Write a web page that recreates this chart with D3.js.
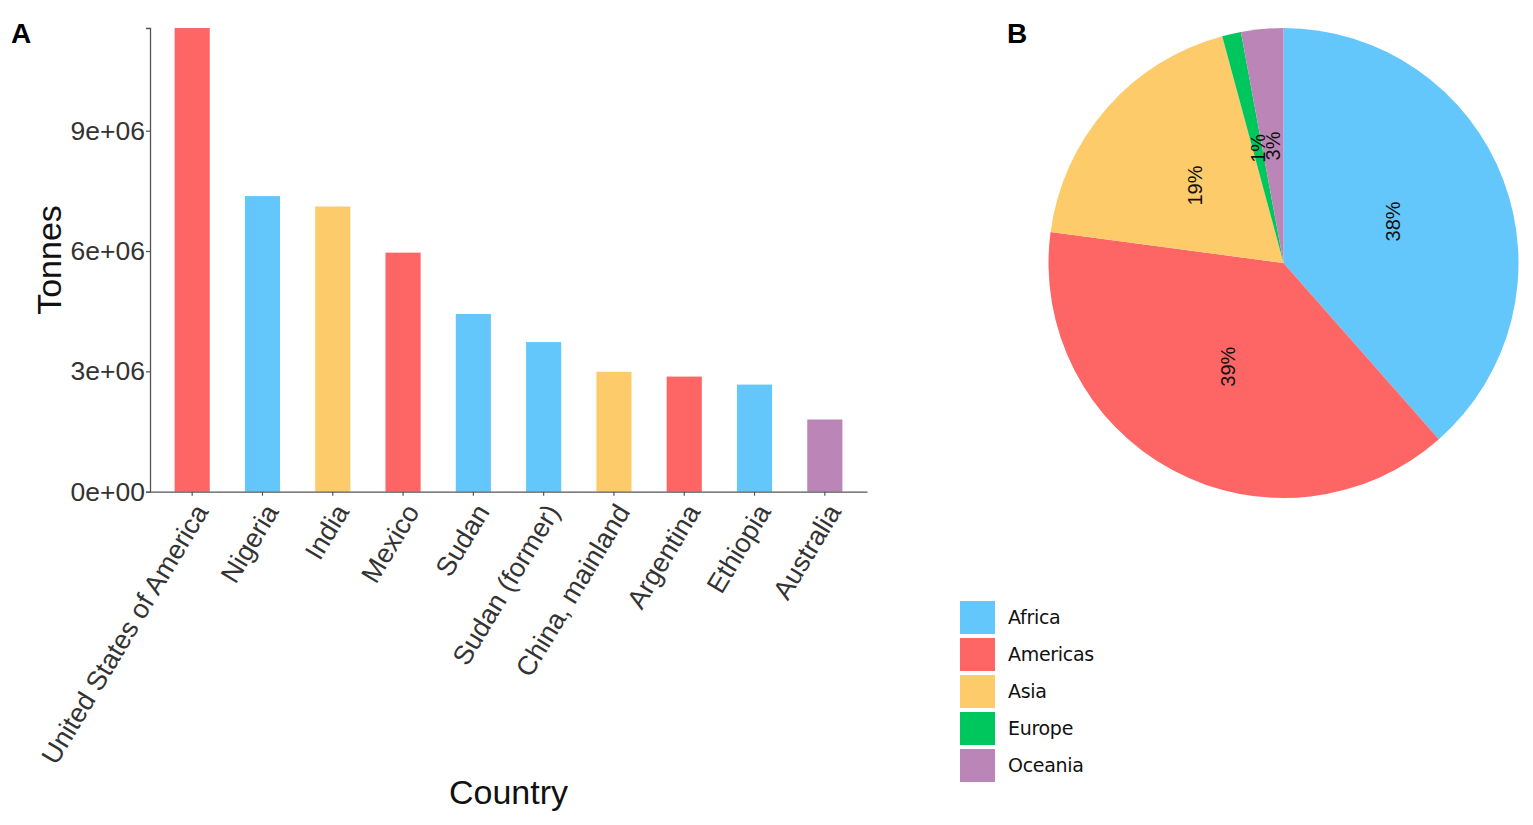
<!DOCTYPE html>
<html>
<head>
<meta charset="utf-8">
<script src="https://cdn.jsdelivr.net/npm/d3@7"></script>
<style>
  html, body { margin: 0; padding: 0; background: #fff; }
  svg { display: block; font-family: "Liberation Sans", Arial, sans-serif; }
</style>
</head>
<body>
<svg id="chart" width="1533" height="825"></svg>
<script>
// ---- Data ----
const countries = ["United States of America", "Nigeria", "India", "Mexico", "Sudan",
  "Sudan (former)", "China, mainland", "Argentina", "Ethiopia", "Australia"];
const tonnes = [11560000, 7370000, 7110000, 5960000, 4430000, 3730000, 2990000, 2870000, 2670000, 1800000];
const countryRegion = ["Americas", "Africa", "Asia", "Americas", "Africa",
  "Africa", "Asia", "Americas", "Africa", "Oceania"];
const yTicks = [0, 3000000, 6000000, 9000000];
const yTickLabels = ["0e+00", "3e+06", "6e+06", "9e+06"];

const regions = ["Africa", "Americas", "Asia", "Europe", "Oceania"];
const regionShare = [38.5, 38.6, 18.7, 1.3, 2.9];
const regionLabels = ["38%", "39%", "19%", "1%", "3%"];
const regionColors = ["#64C7FB", "#FE6666", "#FECB6A", "#00C65E", "#BB86B7"];

const svg = d3.select("#chart");
const color = d3.scaleOrdinal().domain(regions).range(regionColors);

// ---- Panel A: bar chart ----
const A = { left: 150, right: 867, top: 28, bottom: 491.7 };
const x = d3.scaleBand().domain(countries).range([A.left, A.right])
  .paddingInner(0.5).paddingOuter(0.35);
const y = d3.scaleLinear().domain([0, d3.max(tonnes)]).range([A.bottom, A.top]);

const gA = svg.append("g");
gA.selectAll("rect.bar").data(countries).join("rect")
  .attr("class", "bar")
  .attr("x", d => x(d))
  .attr("width", x.bandwidth())
  .attr("y", (d, i) => y(tonnes[i]))
  .attr("height", (d, i) => y(0) - y(tonnes[i]))
  .attr("fill", (d, i) => color(countryRegion[i]));

// y axis
const yAxis = d3.axisLeft(y).tickValues(yTicks)
  .tickFormat((d, i) => yTickLabels[i]).tickSize(4).tickPadding(1);
const gy = gA.append("g").attr("transform", `translate(${A.left},0)`).call(yAxis);
gy.select(".domain").attr("stroke", "#555").attr("stroke-width", 1.3);
gy.selectAll(".tick line").attr("stroke", "#555").attr("stroke-width", 1.2);
gy.selectAll(".tick text").attr("font-size", 26.5).attr("fill", "#333")
  .attr("font-family", "Liberation Sans, Arial, sans-serif");

// x axis
const xAxis = d3.axisBottom(x).tickSize(4).tickSizeOuter(0);
const gx = gA.append("g").attr("transform", `translate(0,${A.bottom})`).call(xAxis);
gx.select(".domain").attr("stroke", "#555").attr("stroke-width", 1.3);
gx.selectAll(".tick line").attr("stroke", "#555").attr("stroke-width", 1.2);
gx.selectAll(".tick text")
  .attr("font-size", 27).attr("fill", "#333")
  .attr("font-family", "Liberation Sans, Arial, sans-serif")
  .attr("text-anchor", "end")
  .attr("x", 0).attr("y", 0).attr("dy", "0.35em")
  .attr("transform", "translate(9,15) rotate(-59)");

// axis titles
gA.append("text")
  .attr("transform", `translate(61,260) rotate(-90)`)
  .attr("text-anchor", "middle")
  .attr("font-size", 34).attr("fill", "#111")
  .text("Tonnes");
gA.append("text")
  .attr("x", (A.left + A.right) / 2).attr("y", 804)
  .attr("text-anchor", "middle")
  .attr("font-size", 34).attr("fill", "#111")
  .text("Country");

// panel labels
svg.append("text").attr("x", 11).attr("y", 43)
  .attr("font-size", 28).attr("font-weight", "bold").attr("fill", "#000").text("A");
svg.append("text").attr("x", 1007).attr("y", 43)
  .attr("font-size", 28).attr("font-weight", "bold").attr("fill", "#000").text("B");

// ---- Panel B: pie ----
const cx = 1283.5, cy = 263, R = 235;
const pie = d3.pie().sort(null).value(d => d.v);
const pieData = pie(regions.map((r, i) => ({ r, v: regionShare[i], lab: regionLabels[i] })));
const arc = d3.arc().innerRadius(0).outerRadius(R);
const gB = svg.append("g").attr("transform", `translate(${cx},${cy})`);
gB.selectAll("path").data(pieData).join("path")
  .attr("d", arc)
  .attr("fill", d => color(d.data.r));
gB.selectAll("text").data(pieData).join("text")
  .attr("transform", d => {
    const c = arc.centroid(d);
    return `translate(${c[0]},${c[1]}) rotate(-90)`;
  })
  .attr("text-anchor", "middle")
  .attr("dy", "0.35em")
  .attr("font-size", 20).attr("fill", "#111")
  .text(d => d.data.lab);

// ---- Legend ----
const legend = svg.append("g").attr("transform", "translate(960,601)");
const li = legend.selectAll("g").data(regions).join("g")
  .attr("transform", (d, i) => `translate(0,${i * 37})`);
li.append("rect").attr("width", 35).attr("height", 33)
  .attr("fill", d => color(d));
li.append("text").attr("x", 48).attr("y", 16.5).attr("dy", "0.35em")
  .attr("font-size", 19).attr("fill", "#111")
  .attr("font-family", "DejaVu Sans, sans-serif")
  .attr("letter-spacing", "-0.3")
  .text(d => d);
</script>
</body>
</html>
